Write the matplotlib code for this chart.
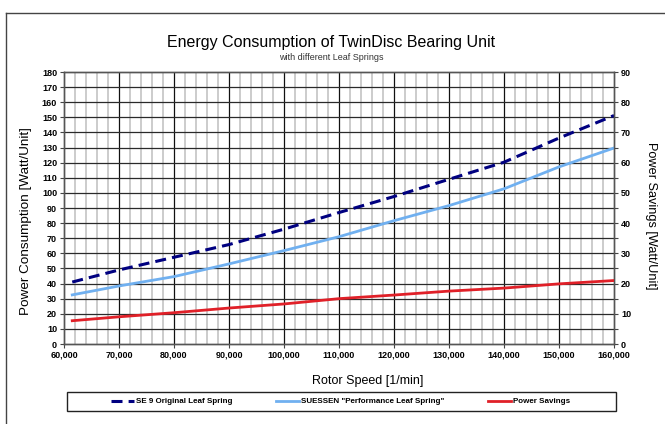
import matplotlib
matplotlib.use("Agg")
import matplotlib.pyplot as plt
from matplotlib.lines import Line2D
from matplotlib.patches import Rectangle
from matplotlib.ticker import MultipleLocator, FuncFormatter

plt.rcParams['font.family'] = ['Liberation Sans', 'DejaVu Sans']

speed = [61500, 70000, 80000, 90000, 100000, 110000, 120000, 130000, 140000, 150000, 160000]
se9_original = [41, 49, 57.4, 65.8, 76, 87, 97.6, 109, 120.3, 136.3, 151.2]
suessen_perf = [32.5, 38.4, 44.6, 53, 61.8, 71, 81.6, 91.6, 102.7, 117.2, 129.7]
power_savings = [7.7, 9, 10.35, 11.9, 13.25, 15, 16.2, 17.5, 18.5, 19.9, 21]

series_names = ['SE 9 Original Leaf Spring', 'SUESSEN "Performance Leaf Spring"', 'Power Savings']
title = 'Energy Consumption of TwinDisc Bearing Unit'
subtitle = 'with different Leaf Springs'

W, H = 665, 424
fig = plt.figure(figsize=(W / 100, H / 100), dpi=100)

# outer frame (left & top)
fig.add_artist(Line2D([6 / W, 6 / W], [0, 1 - 13 / H], color='#444444', lw=1.0))
fig.add_artist(Line2D([6 / W, 1], [1 - 13 / H, 1 - 13 / H], color='#444444', lw=1.0))

ax = fig.add_axes([64 / W, 1 - 344 / H, (614 - 64) / W, (344 - 72) / H])
ax2 = ax.twinx()

ax.set_xlim(60000, 160000)
ax.set_ylim(0, 180)
ax2.set_ylim(0, 90)

# grid
for xv in range(62000, 160000, 2000):
    if xv % 10000:
        ax.axvline(xv, color='#cccccc', lw=1.4, zorder=0)
for xv in range(70000, 160000, 10000):
    ax.axvline(xv, color='#111111', lw=0.9, zorder=1)
for yv in range(10, 180, 10):
    ax.axhline(yv, color='#2a2a2a', lw=0.9, zorder=1)

ax.xaxis.set_major_locator(MultipleLocator(10000))
ax.yaxis.set_major_locator(MultipleLocator(10))
ax2.yaxis.set_major_locator(MultipleLocator(10))
ax2.yaxis.set_minor_locator(MultipleLocator(5))
ax.xaxis.set_major_formatter(FuncFormatter(lambda v, p: f'{int(v):,}'))

tick_kw = dict(labelsize=6.5, length=3, width=0.8, color='#444444', pad=2)
ax.tick_params(axis='both', **tick_kw)
ax2.tick_params(axis='y', **tick_kw)
ax2.tick_params(axis='y', which='minor', length=3, width=0.8, color='#444444')
for lab in ax.get_xticklabels() + ax.get_yticklabels() + ax2.get_yticklabels():
    lab.set_fontweight('bold')

for a in (ax, ax2):
    for s in a.spines.values():
        s.set_color('#555555')
        s.set_linewidth(1.0)

l1, = ax.plot(speed, se9_original, color='#000080', lw=2.2, ls=(0, (3.6, 2.0)), zorder=3)
l2, = ax.plot(speed, suessen_perf, color='#70b0f0', lw=2.0, zorder=3)
l3, = ax2.plot(speed, power_savings, color='#e02028', lw=2.0, zorder=3)

ax.set_xlabel('Rotor Speed [1/min]', fontsize=9.0)
ax.xaxis.set_label_coords((368 - 64) / 550, -(381 - 344) / 272, transform=ax.transAxes)
ax.set_ylabel('Power Consumption [Watt/Unit]', fontsize=9.7)
ax.yaxis.set_label_coords(-(64 - 26) / 550, (344 - 221) / 272)
ax2.set_ylabel('Power Savings [Watt/Unit]', fontsize=9.2, rotation=-90)
ax2.yaxis.set_label_coords((651 - 64) / 550, (344 - 216) / 272)
ax.xaxis.label.set_va('center')
ax.yaxis.label.set_va('center')
ax2.yaxis.label.set_va('center')

fig.text(331 / W, 1 - 43 / H, title, fontsize=11.5, ha='center', va='center')
fig.text(331 / W, 1 - 58 / H, subtitle, fontsize=6.5, ha='center', va='center', color='#333333')

# legend box
lx0, lx1, ly0, ly1 = 67, 616, 392, 411
fig.add_artist(Rectangle((lx0 / W, 1 - ly1 / H), (lx1 - lx0) / W, (ly1 - ly0) / H,
                         transform=fig.transFigure, fill=False, edgecolor='#222222', lw=1.0))
leg = fig.legend([l1, l2, l3], series_names, loc='center', ncol=3,
                 bbox_to_anchor=((lx0 + lx1) / 2 / W - 1.0 / W, 1 - (ly0 + ly1) / 2 / H),
                 fontsize=5.8, frameon=False,
                 handlelength=2.9, handletextpad=0.2, columnspacing=5.4,
                 borderpad=0.0, borderaxespad=0)
for t in leg.get_texts():
    t.set_fontweight('bold')

fig.savefig('out.png', dpi=100)
